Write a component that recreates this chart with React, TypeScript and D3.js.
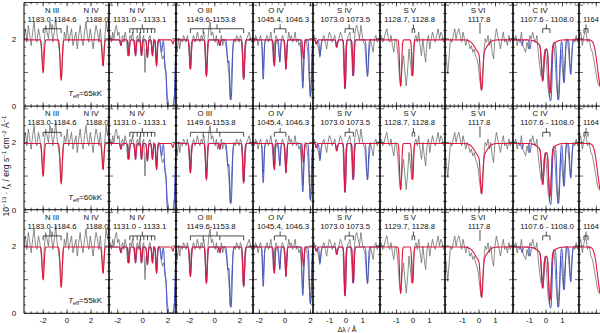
import React from "react";
import * as d3 from "d3";

// Δλ range of each column (Å)
const domains = [[-3.6, 3.5], [-2.7, 2.65], [-3.1, 3.05], [-2.5, 2.2], [-2.0, 2.05], [-2.0, 1.94], [-2.06, 2.06], [-2.0, 2.0], [-6.1, 1.9]];
const tickSteps = [2, 2, 2, 2, 1, 1, 1, 1, 2];
const teffValues = ["65", "60", "55"];

// ion labels per column
const ionNames = [["N III", "N IV"], ["N IV"], ["O III"], ["O IV"], ["S IV"], ["S V"], ["S VI"], ["C IV"], [""]];
const ionWaves = [["1183.0-1184.6", "1188.0"], ["1131.0 - 1133.1"], ["1149.6-1153.8"], ["1045.4, 1046.3"], ["1073.0  1073.5"], ["1128.7, 1128.8"], ["1117.8"], ["1107.6 - 1108.0"], ["1164"]];
const svWavesByRow = ["1128.7, 1128.8", "1128.7, 1128.8", "1129.7, 1128.8"];
const ionAt = [[-1.25, 2.0], [-0.45], [-0.8], [-0.7], [-0.1], [-0.2], [-0.06], [-0.36], [-5.62]];
const waveAt = [[-1.25, 2.5], [-0.25], [-0.3], [-0.15], [-0.06], [-0.2], [0], [0.06], [-5.62]];

// line identification marks
const marks = [[-2.0, -0.5], [-1.04, -0.77, -0.45, -0.18, 0.08, 0.37, 0.69, 0.96], [-1.95, -0.93, 0.4, 2.3], [-0.83, 0.08], [-0.06, 0.44], [-0.05, 0.1], [0.06], [-0.2, 0.24], [-5.5, -5.0]];

// observed flux, evenly sampled across each column
const obs1 = [2.0, 2.3, 1.9, 2.4, 2.1, 1.8, 2.2, 2.5, 2.0, 1.9, 2.3, 2.1, 1.7, 1.05, 1.9, 2.4, 2.2, 2.0, 2.5, 2.3, 1.9, 2.2, 2.6, 2.1, 1.8, 1.5, 0.8, 1.6, 2.2, 2.0, 2.4, 1.9, 2.1, 2.3, 1.8, 2.0, 2.2, 1.7, 2.1, 2.4, 2.0, 1.8, 2.2, 2.5, 2.1, 1.9, 2.3, 2.0, 1.7, 2.1, 2.4, 2.2, 1.9, 2.3, 1.8, 1.2, 2.0, 2.5, 2.2, 2.6];
const obs2 = [2.0, 2.1, 1.9, 2.2, 2.0, 2.3, 2.4, 2.1, 2.2, 1.9, 2.0, 2.1, 1.9, 2.2, 2.0, 1.5, 1.9, 2.1, 2.0, 2.2, 1.9, 1.6, 2.0, 2.1, 1.9, 2.2, 1.5, 2.0, 2.1, 1.0, 1.7, 1.5, 2.0, 2.1, 1.9, 1.6, 2.0, 1.9, 1.3, 1.8, 2.0, 1.9, 1.6, 1.4, 1.5, 1.3, 0.9, 0.3, 0.05, 0.0, 0.02, 0.0, 0.1, 0.4, 0.9];
const obs3 = [1.9, 1.6, 2.0, 1.7, 2.0, 1.9, 2.1, 2.0, 1.9, 2.1, 1.9, 1.2, 1.8, 2.0, 2.1, 1.9, 2.0, 2.2, 2.0, 1.9, 2.1, 2.0, 2.2, 1.9, 0.95, 1.8, 2.3, 2.5, 2.1, 2.2, 2.0, 1.9, 2.1, 1.8, 2.0, 1.9, 2.1, 1.8, 2.0, 1.9, 1.7, 1.3, 0.9, 0.2, 1.0, 1.7, 2.0, 1.9, 2.1, 2.0, 1.9, 2.1, 2.0, 1.6, 0.85, 1.7, 2.0, 2.1, 2.2, 2.0, 1.9, 2.1];
const obs4 = [2.0, 1.9, 2.1, 2.0, 1.8, 2.0, 2.1, 1.9, 1.1, 1.8, 2.0, 2.1, 1.9, 2.0, 2.2, 1.9, 1.3, 1.9, 2.1, 2.0, 1.7, 1.35, 1.9, 2.1, 2.0, 1.6, 1.15, 1.9, 2.2, 2.0, 2.1, 1.9, 2.0, 2.2, 1.9, 2.0, 1.8, 1.9, 1.4, 0.75, 1.5, 2.0, 1.9, 1.6, 0.8, 0.3, 1.2, 2.0];
const obs5 = [2.0, 2.1, 1.85, 1.9, 1.7, 1.45, 1.8, 2.0, 2.1, 1.9, 1.7, 2.0, 2.2, 2.1, 1.9, 2.0, 2.1, 1.75, 1.9, 2.0, 2.2, 2.1, 1.9, 0.55, 1.8, 2.0, 2.1, 2.2, 1.7, 0.9, 1.8, 2.3, 2.4, 2.2, 2.0, 2.4, 2.1, 1.9, 1.8, 1.2, 0.9, 1.5, 2.0, 1.8, 1.6, 2.0, 2.1, 1.9, 2.0, 2.1];
const obs6 = [2.0, 2.1, 1.9, 2.0, 2.2, 2.3, 2.0, 1.9, 2.1, 1.8, 1.6, 2.0, 1.9, 1.5, 0.9, 0.6, 1.2, 1.5, 1.0, 0.6, 1.1, 1.7, 1.3, 0.9, 1.6, 2.0, 2.1, 1.9, 2.2, 1.8, 1.5, 2.0, 1.6, 1.3, 1.9, 2.1, 1.7, 2.0, 2.2, 2.0, 1.9, 2.1, 2.3, 2.0, 2.2, 2.1, 1.9, 2.0];
const obs7 = [1.8, 1.4, 0.95, 1.5, 2.0, 1.9, 2.1, 2.3, 2.0, 2.2, 2.3, 2.1, 1.9, 2.2, 2.0, 1.8, 2.0, 1.9, 1.7, 1.8, 1.6, 1.7, 1.5, 1.4, 1.2, 0.8, 0.5, 0.9, 1.6, 2.0, 1.9, 2.1, 1.8, 2.0, 1.6, 1.4, 2.0, 2.3, 2.1, 1.9, 1.7, 2.0, 2.2, 1.9, 2.0, 1.8, 2.1, 1.9, 2.0, 2.1];
const obs8 = [1.9, 2.0, 2.1, 1.8, 2.0, 1.9, 2.2, 1.8, 1.7, 1.6, 1.9, 1.7, 2.1, 2.0, 2.2, 2.0, 1.9, 2.1, 1.6, 1.2, 0.9, 1.0, 1.5, 1.7, 1.2, 0.5, 0.25, 0.9, 1.6, 1.9, 1.4, 0.6, 0.2, 0.8, 1.7, 1.2, 0.7, 1.4, 2.0, 1.9, 1.4, 0.95, 1.6, 2.0, 1.9, 2.1, 1.9, 2.0];
const obs9 = [2.0, 2.2, 1.8, 2.1, 2.3, 1.9, 2.0, 1.7, 1.6, 1.3, 1.0, 0.7, 0.6, 0.8, 1.2, 1.6, 1.9, 2.0, 2.1, 1.9, 2.0, 2.1, 1.9, 2.0, 2.2, 1.9, 2.0, 2.1, 1.9, 2.0, 2.0, 2.1, 1.9, 2.0, 2.2, 1.9, 2.0, 2.1, 1.9, 2.0];
const observed = [obs1, obs2, obs3, obs4, obs5, obs6, obs7, obs8, obs9];

// photospheric lines [centre Δλ, minimum flux, gaussian sigma]
const photLines = [
  [[-2.0, 1.0, 0.07], [-0.5, 0.78, 0.07], [3.0, 1.2, 0.07]],
  [[-1.75, 1.8, 0.05], [-1.12, 1.5, 0.05], [-0.58, 1.5, 0.05], [-0.1, 1.5, 0.05], [0.37, 1.45, 0.05], [0.77, 1.5, 0.05], [1.1, 1.2, 0.05], [2.4, 1.85, 0.05]],
  [[-1.95, 1.1, 0.06], [-0.67, 0.9, 0.06], [0.4, 1.8, 0.05], [2.3, 0.8, 0.06]],
  [[-0.83, 1.2, 0.05], [0.08, 1.1, 0.05], [1.45, 1.4, 0.05]],
  [[-1.8, 1.85, 0.04], [-0.56, 1.75, 0.04], [-0.06, 0.52, 0.04], [0.44, 0.9, 0.04]],
  [[-0.75, 0.6, 0.05], [-0.02, 0.9, 0.045]],
  [[0.1, 1.55, 0.3], [0.16, 0.6, 0.06]],
  [[0.0, 1.7, 0.35], [-0.2, 0.85, 0.06], [0.24, 0.45, 0.06]],
  [[-3.2, 0.4, 0.45]],
];
// interstellar lines [centre Δλ, minimum flux, gaussian sigma]
const ismLines = [
  [],
  [[1.5, 1.6, 0.05], [1.78, 1.2, 0.05], [2.22, 1e-12, 0.13]],
  [[1.05, 1.3, 0.06], [1.28, 0.18, 0.07]],
  [[-1.7, 0.8, 0.05], [-0.4, 1.3, 0.05], [1.39, 0.64, 0.05], [2.0, 0.27, 0.06]],
  [[-1.57, 1.5, 0.04], [1.29, 0.88, 0.045]],
  [],
  [],
  [[-1.45, 1.8, 0.04], [-0.97, 1.7, 0.04], [0.3, 0.5, 0.05], [0.75, 0.18, 0.06], [1.1, 0.7, 0.05], [1.5, 0.94, 0.05]],
  [],
];

const CONT = 1.97;
const W = 600;
const H = 333;
const panelLeft = [24, 109, 176, 253, 313, 380, 445, 513, 579];
const panelRight = [109, 176, 253, 313, 380, 445, 513, 579, 645];
const rowTop0 = 2.5;
const rowH = 103.6;
const FONT = "'Liberation Sans', Arial, Helvetica, sans-serif";

function flux(x: number, lines: number[][]) {
  let tau = 0;
  for (const [c, fmin, s] of lines) {
    const z = (x - c) / s;
    tau += Math.log(CONT / fmin) * Math.exp(-0.5 * z * z);
  }
  return CONT * Math.exp(-tau);
}

function Panel({ row, col }: { row: number; col: number }) {
  const top = rowTop0 + row * rowH;
  const bottom = top + rowH;
  const [d0, d1] = domains[col];
  const x = d3.scaleLinear().domain([d0, d1]).range([panelLeft[col], panelRight[col]]);
  const y = d3.scaleLinear().domain([0, 3.08]).range([bottom, top]);
  const line = d3.line<[number, number]>().x(d => x(d[0])).y(d => y(d[1]));

  const obs = observed[col];
  const obsPts: [number, number][] = obs.map((v, i) => [d0 + (i * (d1 - d0)) / (obs.length - 1), v]);
  const grid = d3.range(0, 601).map(i => d0 + (i * (d1 - d0)) / 600);
  const redPts: [number, number][] = grid.map(g => [g, flux(g, photLines[col])]);
  const bluePts: [number, number][] = grid.map(g => [g, flux(g, [...photLines[col], ...ismLines[col]])]);

  const step = tickSteps[col];
  const major = d3.range(Math.ceil(d0 / step) * step, d1, step).filter(t => t - d0 > 0.2 && d1 - t > 0.2);
  const minor = d3.range(Math.ceil(d0 / (step / 4)) * (step / 4), d1, step / 4).filter(t => t > d0 + 0.02 && t < d1 - 0.02);
  const yMinor = d3.range(0.25, 3.08, 0.25);

  const clipId = `clip-${row}-${col}`;
  const m = marks[col];
  const yb = y(2.3);
  const lastCol = col === domains.length - 1;

  return (
    <g>
      <defs>
        <clipPath id={clipId}>
          <rect x={panelLeft[col]} y={top} width={panelRight[col] - panelLeft[col]} height={rowH} />
        </clipPath>
      </defs>
      <g clipPath={`url(#${clipId})`}>
        <path d={line(obsPts) || ""} fill="none" stroke="#666" strokeWidth={0.75} />
        {ismLines[col].length > 0 && <path d={line(bluePts) || ""} fill="none" stroke="#3f4fc8" strokeWidth={1} />}
        <path d={line(redPts) || ""} fill="none" stroke="#e0183f" strokeWidth={1.1} />
        {m.length === 1 ? (
          <line x1={x(m[0])} x2={x(m[0])} y1={y(2.15)} y2={y(2.48)} stroke="#000" strokeWidth={0.7} />
        ) : (
          <g stroke="#000" strokeWidth={0.7}>
            <line x1={x(m[0])} x2={x(m[m.length - 1])} y1={yb} y2={yb} />
            {m.map((v, i) => (
              <line key={i} x1={x(v)} x2={x(v)} y1={yb} y2={y(2.17)} />
            ))}
            <line x1={x((m[0] + m[m.length - 1]) / 2)} x2={x((m[0] + m[m.length - 1]) / 2)} y1={yb} y2={y(2.43)} />
          </g>
        )}
        {ionNames[col].map((n, i) => (
          <g key={i} fontFamily={FONT} fontSize={lastCol ? 7.4 : 7.8} textAnchor={lastCol ? "start" : "middle"} fill="#111">
            {n && <text x={x(ionAt[col][i])} y={top + 10}>{n}</text>}
            <text x={x(waveAt[col][i])} y={top + 19}>
              {col === 5 ? svWavesByRow[row] : ionWaves[col][i]}
            </text>
          </g>
        ))}
        <g stroke="#000" strokeWidth={0.6}>
          {major.map(t => (
            <g key={`M${t}`}>
              <line x1={x(t)} x2={x(t)} y1={bottom} y2={bottom - 4} />
              <line x1={x(t)} x2={x(t)} y1={top} y2={top + 4} />
            </g>
          ))}
          {minor.map(t => (
            <g key={`m${t}`}>
              <line x1={x(t)} x2={x(t)} y1={bottom} y2={bottom - 2} />
              <line x1={x(t)} x2={x(t)} y1={top} y2={top + 2} />
            </g>
          ))}
          {yMinor.map(v => {
            const len = Math.abs(v - Math.round(v)) < 1e-6 ? 4 : 2;
            return (
              <g key={`y${v}`}>
                <line x1={panelLeft[col]} x2={panelLeft[col] + len} y1={y(v)} y2={y(v)} />
                <line x1={panelRight[col]} x2={panelRight[col] - len} y1={y(v)} y2={y(v)} />
              </g>
            );
          })}
        </g>
      </g>
      {row === 2 &&
        major
          .filter(t => x(t) + 4 < W)
          .map(t => (
            <text key={`l${t}`} x={x(t)} y={322.5} fontFamily={FONT} fontSize={8} textAnchor="middle" fill="#111">
              {t}
            </text>
          ))}
    </g>
  );
}

export default function App() {
  const rows = [0, 1, 2];
  const cols = d3.range(domains.length);
  const bottomAll = rowTop0 + 3 * rowH;
  return (
    <svg width={W} height={H} style={{ position: "absolute", left: 0, top: 0, background: "#fff" }}>
      {rows.map(r => cols.map(c => <Panel key={`${r}-${c}`} row={r} col={c} />))}
      <g stroke="#000">
        <line x1={24} x2={24} y1={rowTop0} y2={bottomAll} strokeWidth={1} />
        {panelLeft.slice(1).map(px => (
          <line key={px} x1={px} x2={px} y1={rowTop0} y2={bottomAll} strokeWidth={1.6} />
        ))}
        {[0, 1, 2, 3].map(r => (
          <line key={r} x1={24} x2={W} y1={rowTop0 + r * rowH} y2={rowTop0 + r * rowH} strokeWidth={r === 0 ? 0.8 : 1} />
        ))}
      </g>
      {rows.map(r => {
        const bottom = rowTop0 + (r + 1) * rowH;
        const yy = d3.scaleLinear().domain([0, 3.08]).range([bottom, bottom - rowH]);
        return (
          <g key={r} fontFamily={FONT} fill="#111">
            <text x={14} y={yy(2) + 3} fontSize={8} textAnchor="middle">2</text>
            <text x={14} y={yy(0) + 3} fontSize={8} textAnchor="middle">0</text>
            <text x={102} y={bottom - 10} fontSize={8} textAnchor="end">
              <tspan fontStyle="italic">T</tspan>
              <tspan fontSize={5.5} dy={2}>eff</tspan>
              <tspan dy={-2}>={teffValues[r]}kK</tspan>
            </text>
          </g>
        );
      })}
      <text x={347} y={332} fontFamily={FONT} fontSize={7} textAnchor="middle" fill="#111">
        Δλ / Å
      </text>
      <text transform="translate(9,166) rotate(-90)" fontFamily={FONT} fontSize={8.5} textAnchor="middle" fill="#111">
        <tspan>10</tspan>
        <tspan fontSize={6} dy={-3.5}>−13</tspan>
        <tspan dy={3.5}> · </tspan>
        <tspan fontStyle="italic">f</tspan>
        <tspan fontSize={6} dy={2}>λ</tspan>
        <tspan dy={-2}> / erg s</tspan>
        <tspan fontSize={6} dy={-3.5}>−1</tspan>
        <tspan dy={3.5}> cm</tspan>
        <tspan fontSize={6} dy={-3.5}>−2</tspan>
        <tspan dy={3.5}> Å</tspan>
        <tspan fontSize={6} dy={-3.5}>−1</tspan>
      </text>
    </svg>
  );
}
